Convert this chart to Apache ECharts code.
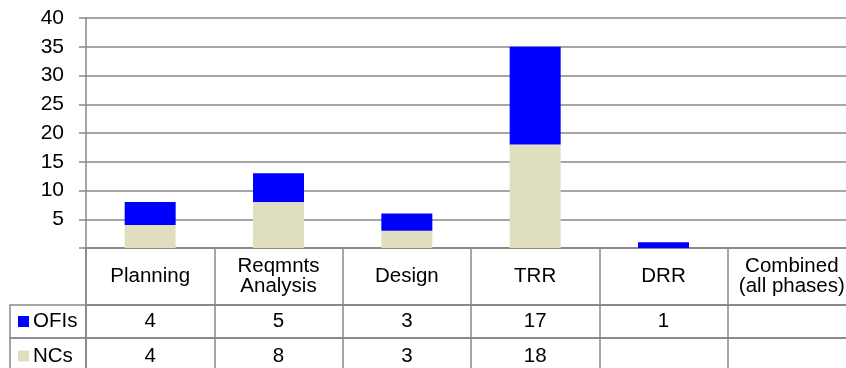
<!DOCTYPE html>
<html>
<head>
<meta charset="utf-8">
<script src="https://cdn.jsdelivr.net/npm/echarts@6/dist/echarts.min.js"></script>
<style>
  html, body { margin: 0; padding: 0; background: #ffffff; }
  #chart { width: 846px; height: 368px; }
</style>
</head>
<body>
<div id="chart"></div>
<script>
// ---- data ----
const categories = ['Planning', 'Reqmnts\nAnalysis', 'Design', 'TRR', 'DRR', 'Combined\n(all phases)'];
const seriesNames = ['OFIs', 'NCs'];
const ofis = [4, 5, 3, 17, 1, null];
const ncs = [4, 8, 3, 18, null, null];
const yTicks = [0, 5, 10, 15, 20, 25, 30, 35, 40];

// ---- style ----
const FONT = "'Liberation Sans', Arial, sans-serif";
const LINE = '#888888';
const LW = 1.5;
const BLUE = '#0000ff';
const BEIGE = '#dfdfc0';

const chart = echarts.init(document.getElementById('chart'), null, { renderer: 'canvas' });

const baseGrid = { outerBoundsMode: 'none', containLabel: false };
const rowGrid = (top, h) => Object.assign({ left: 86, top: top, width: 770, height: h, show: true, borderColor: LINE, borderWidth: LW, backgroundColor: 'transparent' }, baseGrid);
const legGrid = (top, h) => Object.assign({ left: 10, top: top, width: 76, height: h, show: true, borderColor: LINE, borderWidth: LW, backgroundColor: 'transparent' }, baseGrid);

const rowXAxis = (gridIndex, h, formatter) => ({
  type: 'category', gridIndex: gridIndex, data: categories, position: 'top',
  boundaryGap: true,
  axisLine: { show: true, lineStyle: { color: LINE, width: LW } },
  axisTick: { show: false },
  splitLine: { show: true, lineStyle: { color: LINE, width: LW } },
  axisLabel: {
    show: true, inside: true, interval: 0, margin: h / 2, verticalAlign: 'middle', align: 'center',
    color: '#000', fontFamily: FONT, fontSize: 20.5, lineHeight: 20,
    formatter: formatter
  }
});
const hiddenValueY = (gridIndex) => ({ type: 'value', gridIndex: gridIndex, show: false });
const hiddenValueX = (gridIndex) => ({ type: 'value', gridIndex: gridIndex, show: false });
const legendY = (gridIndex, name, color) => ({
  type: 'category', gridIndex: gridIndex, data: [name],
  axisLine: { show: false }, axisTick: { show: false }, splitLine: { show: false },
  axisLabel: {
    show: true, inside: true, margin: 8, align: 'left', verticalAlign: 'middle',
    formatter: '{sq|}{t|' + name + '}',
    rich: {
      sq: { width: 11, height: 11, backgroundColor: color },
      t: { color: '#000', fontFamily: FONT, fontSize: 20.5, padding: [0, 0, 0, 4] }
    }
  }
});

const option = {
  animation: false,
  backgroundColor: '#ffffff',
  textStyle: { fontFamily: FONT },
  grid: [
    Object.assign({ left: 86, top: 18, width: 770, height: 230, show: false }, baseGrid),
    rowGrid(248, 57),
    rowGrid(305, 33),
    rowGrid(338, 36),
    legGrid(305, 33),
    legGrid(338, 36)
  ],
  xAxis: [
    {
      type: 'category', gridIndex: 0, data: categories,
      axisLine: { show: true, lineStyle: { color: LINE, width: LW } },
      axisTick: { show: false },
      axisLabel: { show: false },
      splitLine: { show: false }
    },
    rowXAxis(1, 57, (v) => v),
    rowXAxis(2, 33, (v, i) => (ofis[i] == null ? '' : String(ofis[i]))),
    rowXAxis(3, 36, (v, i) => (ncs[i] == null ? '' : String(ncs[i]))),
    hiddenValueX(4),
    hiddenValueX(5)
  ],
  yAxis: [
    {
      type: 'value', gridIndex: 0, min: yTicks[0], max: yTicks[yTicks.length - 1], interval: yTicks[1] - yTicks[0],
      axisLine: { show: true, lineStyle: { color: LINE, width: LW } },
      axisTick: { show: true, inside: false, length: 7, lineStyle: { color: LINE, width: LW } },
      splitLine: { show: true, lineStyle: { color: LINE, width: LW } },
      axisLabel: {
        margin: 22, color: '#000', fontFamily: FONT, fontSize: 21,
        formatter: (v) => (v === 0 ? '' : String(v))
      }
    },
    hiddenValueY(1),
    hiddenValueY(2),
    hiddenValueY(3),
    legendY(4, seriesNames[0], BLUE),
    legendY(5, seriesNames[1], BEIGE)
  ],
  series: [
    {
      name: seriesNames[1], type: 'bar', stack: 'total', xAxisIndex: 0, yAxisIndex: 0,
      data: ncs, barWidth: 51, itemStyle: { color: BEIGE }
    },
    {
      name: seriesNames[0], type: 'bar', stack: 'total', xAxisIndex: 0, yAxisIndex: 0,
      data: ofis, barWidth: 51, itemStyle: { color: BLUE }
    }
  ]
};

chart.setOption(option);
</script>
</body>
</html>
